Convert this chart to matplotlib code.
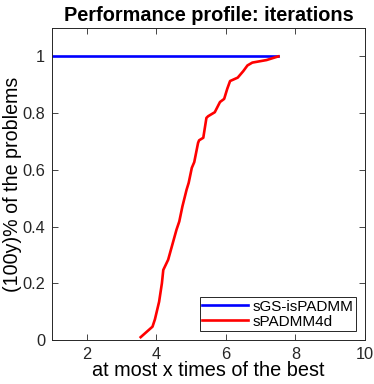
import matplotlib
matplotlib.use('Agg')
import matplotlib.pyplot as plt

plt.rcParams['font.family'] = ['Liberation Sans', 'DejaVu Sans']

# performance profile data
x_blue = [1.0, 7.51]
y_blue = [1.0, 1.0]

x_red = [3.55, 3.89, 3.96, 4.08, 4.16, 4.20, 4.34, 4.46, 4.58, 4.66, 4.75,
         4.87, 4.93, 5.02, 5.09, 5.20, 5.23, 5.35, 5.44, 5.49, 5.68, 5.83,
         5.95, 6.04, 6.12, 6.34, 6.50, 6.62, 6.76, 7.17, 7.51]
y_red = [0.01, 0.047, 0.073, 0.135, 0.2, 0.247, 0.283, 0.336, 0.389, 0.418,
         0.471, 0.53, 0.554, 0.607, 0.627, 0.695, 0.704, 0.713, 0.783, 0.789,
         0.803, 0.839, 0.85, 0.886, 0.913, 0.925, 0.948, 0.968, 0.978, 0.987, 1.0]

xticks = [2, 4, 6, 8, 10]
yticks = [0, 0.2, 0.4, 0.6, 0.8, 1]
ytick_labels = ['0', '0.2', '0.4', '0.6', '0.8', '1']

fig = plt.figure(figsize=(3.74, 3.84), dpi=100)
ax = fig.add_axes([0.139, 0.1146, 0.837, 0.8125])

ax.plot(x_blue, y_blue, color='#0000ff', lw=1.9, label='sGS-isPADMM')
ax.plot(x_red, y_red, color='#ff0000', lw=1.9, label='sPADMM4d')

ax.set_xlim(1, 10)
ax.set_ylim(0, 1.1)
ax.set_xticks(xticks)
ax.set_yticks(yticks)
ax.set_yticklabels(ytick_labels)
ax.tick_params(direction='in', top=True, right=True, labelsize=11.8,
               length=4, width=0.6, colors='#262626', pad=5)
for s in ax.spines.values():
    s.set_linewidth(0.7)
    s.set_color('#262626')

ax.set_title('Performance profile: iterations', fontsize=14.3, fontweight='bold', pad=5)
ax.set_xlabel('at most x times of the best', fontsize=14.3, labelpad=-1)
ax.set_ylabel('(100y)% of the problems', fontsize=14.1, labelpad=0)

leg = ax.legend(loc='lower right', fontsize=11, fancybox=False, framealpha=1,
                edgecolor='#262626', handlelength=3.0, borderpad=0.15,
                labelspacing=0.05, handletextpad=0.3, borderaxespad=0.6)
leg.get_frame().set_linewidth(0.7)

fig.savefig('out.png', dpi=100)
